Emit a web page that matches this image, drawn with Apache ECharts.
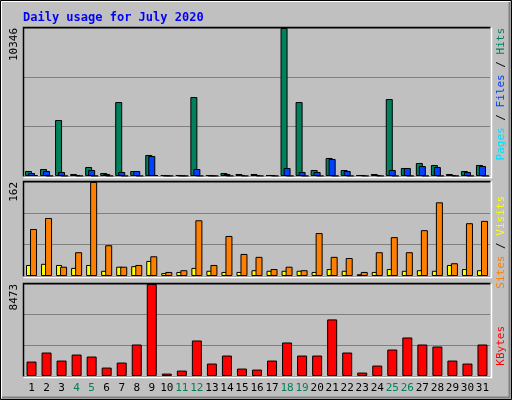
<!DOCTYPE html>
<html><head><meta charset="utf-8">
<script src="https://cdn.jsdelivr.net/npm/echarts@6/dist/echarts.min.js"></script>
<style>html,body{margin:0;padding:0;background:#c0c0c0}#c{width:512px;height:400px}</style>
</head><body><div id="c"></div>
<script>
const days = Array.from({length:31},(_,i)=>String(i+1));
const weekendDays = ['4','5','11','12','18','19','25','26'];
const hits = [350,490,3915,140,630,210,5170,350,1470,70,70,5520,70,210,140,140,70,10346,5170,420,1260,420,70,140,5380,560,910,770,140,350,770];
const files = [210,350,280,70,420,140,280,350,1400,0,0,490,0,140,70,70,70,560,280,280,1190,350,70,70,420,560,700,630,70,280,700];
const pages = [70,0,0,0,0,0,0,0,70,0,0,0,0,0,0,0,0,0,0,0,0,0,0,0,0,0,0,0,0,0,0];
const sites = [81,100,16,41,162,53,16,19,34,7,10,96,19,69,38,33,12,16,10,74,33,31,7,41,67,41,79,127,22,91,95];
const visits = [19,21,19,14,19,9,16,17,26,5,7,14,9,7,7,10,9,9,9,7,12,9,3,7,12,9,10,9,19,12,10];
const kbytes = [1331,2162,1423,1977,1793,776,1238,2901,8473,222,499,3271,1146,1885,684,591,1423,3086,1885,1885,5211,2162,314,961,2439,3548,2901,2716,1423,1146,2901];
const maxHits = 10346, maxSites = 162, maxKB = 8473;

const F = 'DejaVu Sans Mono, monospace';
const grids = [
  {left:24,right:22,top:28,height:148},
  {left:24,right:22,top:182,height:94},
  {left:24,right:22,top:284,height:92}
];
function yAx(i,max){return {gridIndex:i,min:0,max:max,interval:max/3,
  axisLine:{show:false},axisTick:{show:false},
  splitLine:{lineStyle:{color:'#808080',width:1}},
  axisLabel:{rotate:90,fontFamily:F,fontSize:11,color:'#000',margin:4,align:'right',
    formatter:v=>Math.abs(v-max)<0.01?String(max):''}};}
function xAx(i,show){return {gridIndex:i,type:'category',data:days,
  axisLine:{show:false},axisTick:{show:false},
  axisLabel:{show:show,interval:0,fontFamily:F,fontSize:11,margin:7,
    color:(v)=>weekendDays.includes(v)?'#00805c':'#000'}};}
const bs={borderColor:'#000',borderWidth:1};
const chart = echarts.init(document.getElementById('c'));
function bevel(){
  const g=[];
  g.push({type:'rect',shape:{x:0.5,y:0.5,width:511,height:399},style:{fill:'#c0c0c0',stroke:'#000'},z:-10});
  g.push({type:'polyline',shape:{points:[[1.5,398],[1.5,1.5],[510,1.5]]},style:{stroke:'#fff',lineWidth:1,fill:null},z:-9});
  g.push({type:'polyline',shape:{points:[[2,397.5],[509.5,397.5],[509.5,2]]},style:{stroke:'#808080',lineWidth:2,fill:null},z:-9});
  grids.forEach(gr=>{
    const x0=gr.left-0.5,y0=gr.top-0.5,x1=512-gr.right+0.5,y1=gr.top+gr.height+0.5;
    g.push({type:'polyline',shape:{points:[[x0,y1],[x0,y0],[x1,y0]]},style:{stroke:'#000',lineWidth:1.5,fill:null},z:10});
    g.push({type:'polyline',shape:{points:[[x0,y1+1],[x1+1,y1+1],[x1+1,y0]]},style:{stroke:'#fff',lineWidth:1.5,fill:null},z:10});
  });
  const side=(y,rich,str)=>({type:'text',x:496,y:y,rotation:Math.PI/2,
    style:{text:str,rich:rich,fontFamily:F,fontSize:11,align:'right',verticalAlign:'top'},z:20});
  g.push(side(28,{p:{fill:'#00e0ff',fontFamily:F,fontSize:11},f:{fill:'#0040ff',fontFamily:F,fontSize:11},h:{fill:'#00805c',fontFamily:F,fontSize:11},s:{fill:'#000',fontFamily:F,fontSize:11}},
    '{p|Pages}{s| / }{f|Files}{s| / }{h|Hits}'));
  g.push(side(196,{a:{fill:'#ff8000',fontFamily:F,fontSize:11},b:{fill:'#ffff00',fontFamily:F,fontSize:11},s:{fill:'#000',fontFamily:F,fontSize:11}},
    '{a|Sites}{s| / }{b|Visits}'));
  g.push(side(326,{k:{fill:'#ff0000',fontFamily:F,fontSize:11}},'{k|KBytes}'));
  return g;
}
chart.setOption({
  animation:false,
  backgroundColor:'#c0c0c0',
  title:{text:'Daily usage for July 2020',left:18,top:7,textStyle:{fontFamily:F,fontSize:12,fontWeight:'bold',color:'#0000ff'}},
  grid:grids,
  xAxis:[xAx(0,false),xAx(1,false),xAx(2,true)],
  yAxis:[yAx(0,maxHits),yAx(1,maxSites),yAx(2,maxKB)],
  graphic:bevel(),
  series:[
    {type:'bar',xAxisIndex:0,yAxisIndex:0,data:hits,barWidth:7,barGap:'-57%',itemStyle:{color:'#00805c',...bs}},
    {type:'bar',xAxisIndex:0,yAxisIndex:0,data:files,barWidth:7,barGap:'-57%',itemStyle:{color:'#0040ff',...bs}},
    {type:'bar',xAxisIndex:0,yAxisIndex:0,data:pages,barWidth:7,barGap:'-57%',itemStyle:{color:'#00e0ff',...bs}},
    {type:'bar',xAxisIndex:1,yAxisIndex:1,data:visits,barWidth:6,barGap:'-33%',itemStyle:{color:'#ffff00',...bs}},
    {type:'bar',xAxisIndex:1,yAxisIndex:1,data:sites,barWidth:7,barGap:'-33%',itemStyle:{color:'#ff8000',...bs}},
    {type:'bar',xAxisIndex:2,yAxisIndex:2,data:kbytes,barWidth:10,itemStyle:{color:'#ff0000',...bs}}
  ]
});
</script></body></html>
